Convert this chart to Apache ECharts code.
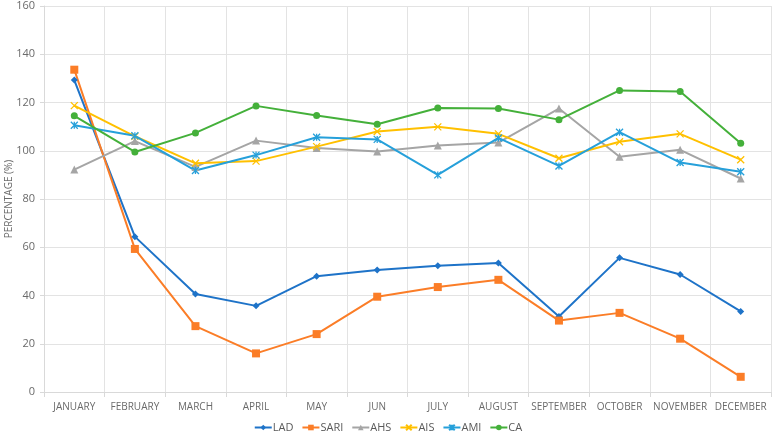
<!DOCTYPE html>
<html>
<head>
<meta charset="utf-8">
<script src="https://cdn.jsdelivr.net/npm/echarts@6/dist/echarts.min.js"></script>
<style>
  html, body { margin: 0; padding: 0; background: #fff; }
  #chart { width: 776px; height: 435px; }
</style>
</head>
<body>
<div id="chart"></div>
<script>
// months on the x axis
const months = ['JANUARY', 'FEBRUARY', 'MARCH', 'APRIL', 'MAY', 'JUN', 'JULY', 'AUGUST', 'SEPTEMBER', 'OCTOBER', 'NOVEMBER', 'DECEMBER'];

// percentage values
const lad  = [129.3, 64.4, 40.6, 35.7, 48.0, 50.6, 52.3, 53.5, 31.3, 55.6, 48.7, 33.4];
const sari = [133.6, 59.3, 27.3, 16.0, 24.0, 39.5, 43.5, 46.5, 29.6, 32.8, 22.1, 6.3];
const ahs  = [92.2, 104.0, 93.3, 104.2, 101.1, 99.7, 102.2, 103.4, 117.5, 97.5, 100.4, 88.5];
const ais  = [118.7, 106.0, 94.8, 95.7, 101.7, 108.0, 109.9, 107.0, 96.9, 103.7, 107.0, 96.3];
const ami  = [110.6, 106.2, 91.8, 98.2, 105.6, 104.7, 90.0, 105.3, 93.7, 107.7, 95.1, 91.3];
const ca   = [114.5, 99.5, 107.4, 118.6, 114.6, 111.0, 117.7, 117.5, 112.9, 125.0, 124.6, 103.1];

const yTicks = { min: 0, max: 160, interval: 20 };

let chart = echarts.init(document.getElementById('chart'));

const xMark = 'path://M0,0L10,10M10,0L0,10';
const starMark = 'path://M0,0L10,10M10,0L0,10M5,0L5,10';

function mk(name, data, color, symbol, size, stroked) {
  return {
    name: name,
    type: 'line',
    data: data,
    symbol: symbol,
    symbolSize: size,
    showSymbol: true,
    animation: false,
    lineStyle: { width: 2, color: color },
    itemStyle: stroked
      ? { color: 'rgba(0,0,0,0)', borderColor: color, borderWidth: 1.3 }
      : { color: color },
    emphasis: { disabled: true }
  };
}

chart.setOption({
  textStyle: { fontFamily: 'Open Sans' },
  grid: { left: 44, right: 5, top: 6, bottom: 43, containLabel: false, outerBoundsMode: 'none' },
  color: ['#1e73c8', '#fb7d27', '#a5a5a5', '#ffc000', '#26a0da', '#44b03a'],
  legend: {
    top: 417,
    left: 'center',
    itemWidth: 17,
    itemHeight: 7,
    itemGap: 8,
    textStyle: { color: '#595959', fontSize: 11, padding: [0, 0, 0, -4] },
    data: ['LAD', 'SARI', 'AHS', 'AIS', 'AMI', 'CA']
  },
  xAxis: {
    type: 'category',
    data: months,
    boundaryGap: true,
    axisLine: { show: true, lineStyle: { color: '#d9d9d9' } },
    axisTick: { show: true, length: 5, lineStyle: { color: '#d9d9d9' } },
    splitLine: { show: true, lineStyle: { color: '#e3e3e3' } },
    axisLabel: { color: '#6a6a6a', fontSize: 10, margin: 10, interval: 0 }
  },
  yAxis: {
    type: 'value',
    min: yTicks.min,
    max: yTicks.max,
    interval: yTicks.interval,
    name: 'PERCENTAGE (%)',
    nameLocation: 'middle',
    nameGap: 30,
    nameMoveOverlap: false,
    nameTextStyle: { color: '#6a6a6a', fontSize: 10 },
    axisLine: { show: true, lineStyle: { color: '#d9d9d9' } },
    axisTick: { show: true, length: 4, lineStyle: { color: '#d9d9d9' } },
    splitLine: { show: true, lineStyle: { color: '#e3e3e3' } },
    axisLabel: { color: '#6a6a6a', fontSize: 11, margin: 9 }
  },
  series: [
    mk('LAD', lad, '#1e73c8', 'diamond', 7, false),
    mk('SARI', sari, '#fb7d27', 'rect', 8, false),
    mk('AHS', ahs, '#a5a5a5', 'triangle', 8, false),
    mk('AIS', ais, '#ffc000', xMark, 7, true),
    mk('AMI', ami, '#26a0da', starMark, 7, true),
    mk('CA', ca, '#44b03a', 'circle', 7, false)
  ]
});
</script>
</body>
</html>
